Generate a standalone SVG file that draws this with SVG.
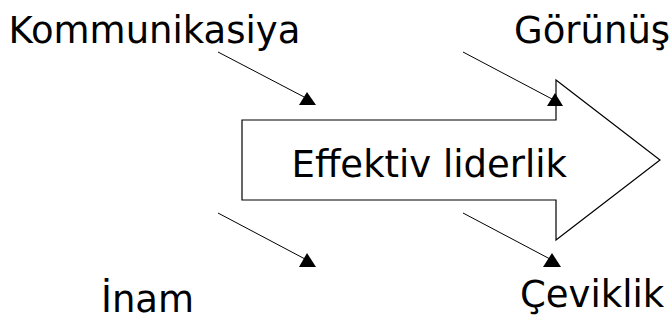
<svg xmlns="http://www.w3.org/2000/svg" width="672" height="320" viewBox="0 0 672 320">
  <style>
    .lbl { font-family: "DejaVu Sans", "Liberation Sans", sans-serif; font-size: 37px; fill: #000; }
    .edge { stroke: #000; stroke-width: 1; fill: none; }
    .head { fill: #000; stroke: none; }
    .shape { fill: #fff; stroke: #000; stroke-width: 1.2; }
  </style>
  <rect width="672" height="320" fill="#fff"/>

  <g id="center">
    <polygon class="shape" points="242,120 556,120 556,80 660,160 556,240 556,200 242,200"/>
    <text class="lbl" x="291.5" y="177">Effektiv liderlik</text>
  </g>

  <g id="kommunikasiya">
    <text class="lbl" x="8.5" y="43">Kommunikasiya</text>
  </g>
  <g id="gorunus">
    <text class="lbl" x="514" y="43">Görünüş</text>
  </g>
  <g id="inam">
    <text class="lbl" x="101" y="312">İnam</text>
  </g>
  <g id="ceviklik">
    <text class="lbl" x="520" y="307">Çeviklik</text>
  </g>

  <g id="connectors">
    <line class="edge" x1="218" y1="52" x2="306" y2="98"/>
    <polygon class="head" points="307,92 316,105 299,105"/>
    <line class="edge" x1="463" y1="52" x2="552" y2="99"/>
    <polygon class="head" points="555,93 563,106 547,106"/>
    <line class="edge" x1="218" y1="213" x2="305" y2="259"/>
    <polygon class="head" points="307,253 316,267 299,267"/>
    <line class="edge" x1="463" y1="213" x2="550" y2="259"/>
    <polygon class="head" points="552,253 561,267 543,267"/>
  </g>
</svg>
